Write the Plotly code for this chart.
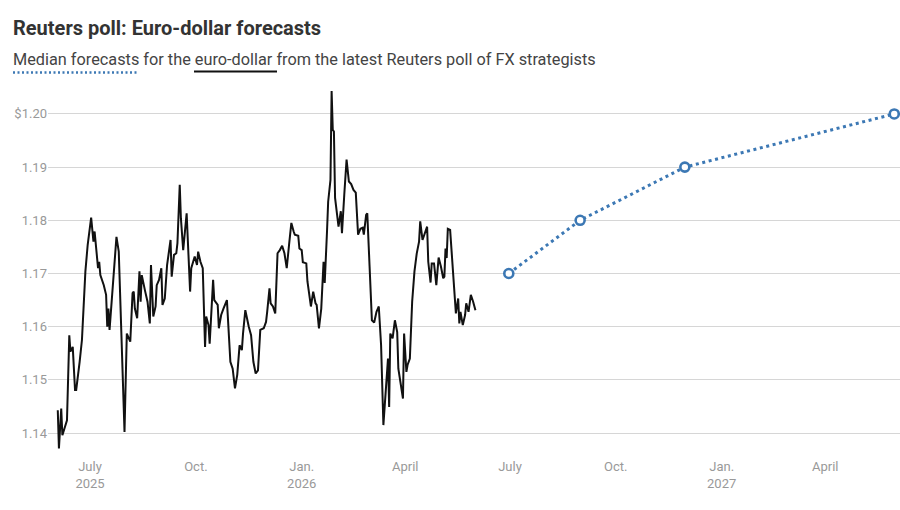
import plotly.graph_objects as go

# ---- Data ----
spot_dates = [
    "2025-06-03","2025-06-04","2025-06-06","2025-06-07","2025-06-11","2025-06-13","2025-06-14","2025-06-16",
    "2025-06-18","2025-06-19","2025-06-22","2025-06-24","2025-06-27","2025-06-29","2025-07-02","2025-07-04",
    "2025-07-05","2025-07-06","2025-07-08","2025-07-09","2025-07-10","2025-07-13","2025-07-15","2025-07-16",
    "2025-07-17","2025-07-18","2025-07-21","2025-07-24","2025-07-26","2025-07-28","2025-07-31","2025-08-02",
    "2025-08-04","2025-08-05","2025-08-07","2025-08-08","2025-08-09","2025-08-11","2025-08-13","2025-08-14",
    "2025-08-15","2025-08-16","2025-08-18","2025-08-20","2025-08-22","2025-08-23","2025-08-25","2025-08-27",
    "2025-08-28","2025-08-30","2025-09-01","2025-09-02","2025-09-04","2025-09-06","2025-09-09","2025-09-10",
    "2025-09-12","2025-09-14","2025-09-15","2025-09-17","2025-09-18","2025-09-20","2025-09-22","2025-09-23",
    "2025-09-26","2025-09-27","2025-09-30","2025-10-02","2025-10-03","2025-10-05","2025-10-07","2025-10-09",
    "2025-10-10","2025-10-12","2025-10-13","2025-10-16","2025-10-17","2025-10-20","2025-10-21","2025-10-23",
    "2025-10-25","2025-10-28","2025-10-31","2025-11-02","2025-11-04","2025-11-06","2025-11-08","2025-11-10",
    "2025-11-11","2025-11-13","2025-11-16","2025-11-18","2025-11-20","2025-11-22","2025-11-24","2025-11-26",
    "2025-11-29","2025-12-01","2025-12-02","2025-12-04",
    "2025-12-05","2025-12-07","2025-12-09","2025-12-11","2025-12-13","2025-12-15","2025-12-17","2025-12-19",
    "2025-12-21","2025-12-23","2025-12-25","2025-12-26","2025-12-29","2025-12-30","2026-01-01","2026-01-02",
    "2026-01-05","2026-01-06","2026-01-09","2026-01-11","2026-01-13","2026-01-14","2026-01-16","2026-01-18",
    "2026-01-20","2026-01-21","2026-01-23","2026-01-24","2026-01-26","2026-01-27","2026-01-28","2026-01-29",
    "2026-01-30","2026-02-01","2026-02-02","2026-02-04","2026-02-05","2026-02-07","2026-02-09","2026-02-11",
    "2026-02-13","2026-02-15","2026-02-17","2026-02-19","2026-02-21","2026-02-23","2026-02-24","2026-02-26",
    "2026-02-27","2026-03-01","2026-03-03","2026-03-05","2026-03-07","2026-03-09","2026-03-11","2026-03-13",
    "2026-03-15","2026-03-17","2026-03-18","2026-03-19","2026-03-21","2026-03-23","2026-03-25","2026-03-26",
    "2026-03-30","2026-03-31","2026-04-02","2026-04-03","2026-04-05","2026-04-07","2026-04-09","2026-04-11",
    "2026-04-13","2026-04-14","2026-04-16","2026-04-18","2026-04-20","2026-04-21","2026-04-23","2026-04-24",
    "2026-04-26","2026-04-28","2026-04-30","2026-05-02","2026-05-04","2026-05-05","2026-05-06","2026-05-07",
    "2026-05-08","2026-05-10","2026-05-13","2026-05-15","2026-05-17","2026-05-18","2026-05-19","2026-05-21",
    "2026-05-23","2026-05-24","2026-05-26","2026-05-28","2026-05-30","2026-06-01",
]
spot_values = [
    1.1443,1.1371,1.1446,1.1396,1.1424,1.1584,1.1553,1.1562,
    1.1481,1.1481,1.1534,1.1575,1.1704,1.1754,1.1805,1.1760,
    1.1779,1.1755,1.1710,1.1722,1.1697,1.1678,1.1660,1.1600,
    1.1634,1.1594,1.1691,1.1769,1.1741,1.1616,1.1402,1.1587,
    1.1578,1.1572,1.1663,1.1666,1.1634,1.1616,1.1704,1.1647,
    1.1697,1.1685,1.1666,1.1647,1.1606,1.1716,1.1619,1.1638,
    1.1678,1.1688,1.1710,1.1641,1.1653,1.1716,1.1763,1.1694,
    1.1735,1.1738,1.1757,1.1867,1.1804,1.1744,1.1785,1.1813,
    1.1666,1.1710,1.1732,1.1716,1.1741,1.1722,1.1710,1.1562,
    1.1619,1.1603,1.1568,1.1688,1.1650,1.1641,1.1597,1.1622,
    1.1634,1.1650,1.1534,1.1521,1.1484,1.1510,1.1565,1.1556,
    1.1587,1.1631,1.1600,1.1584,1.1534,1.1512,1.1518,1.1594,
    1.1597,1.1609,1.1628,1.1672,
    1.1644,1.1638,1.1625,1.1738,1.1744,1.1752,1.1738,1.1710,
    1.1754,1.1795,1.1779,1.1773,1.1771,1.1747,1.1744,1.1721,
    1.1719,1.1685,1.1638,1.1666,1.1644,1.1641,1.1597,1.1634,
    1.1722,1.1682,1.1779,1.1835,1.1876,1.2043,1.1970,1.1967,
    1.1842,1.1810,1.1788,1.1817,1.1776,1.1848,1.1914,1.1873,
    1.1868,1.1857,1.1852,1.1773,1.1784,1.1786,1.1773,1.1810,
    1.1813,1.1713,1.1612,1.1608,1.1628,1.1638,1.1565,1.1415,
    1.1484,1.1540,1.1449,1.1587,1.1578,1.1612,1.1590,1.1521,
    1.1465,1.1587,1.1515,1.1528,1.1540,1.1647,1.1704,1.1738,
    1.1760,1.1798,1.1763,1.1776,1.1788,1.1722,1.1683,1.1719,
    1.1719,1.1678,1.1730,1.1713,1.1691,1.1694,1.1747,1.1729,
    1.1784,1.1782,1.1697,1.1625,1.1653,1.1606,1.1628,1.1603,
    1.1622,1.1644,1.1628,1.1660,1.1647,1.1631,
]
forecast_dates = ["2026-06-30", "2026-08-31", "2026-11-30", "2027-05-31"]
forecast_values = [1.17, 1.18, 1.19, 1.20]

x_tick_dates = ["2025-07-01", "2025-10-01", "2026-01-01", "2026-04-01",
                "2026-07-01", "2026-10-01", "2027-01-01", "2027-04-01"]
x_tick_labels = ["July<br>2025", "Oct.", "Jan.<br>2026", "April",
                 "July", "Oct.", "Jan.<br>2027", "April"]
y_tick_values = [1.14, 1.15, 1.16, 1.17, 1.18, 1.19, 1.20]
y_tick_labels = ["1.14", "1.15", "1.16", "1.17", "1.18", "1.19", "$1.20"]

title_text = "Reuters poll: Euro-dollar forecasts"
subtitle_text = "Median forecasts for the euro-dollar from the latest Reuters poll of FX strategists"

BLUE = "#3c78b4"
W, H = 900, 510
ML, MR, MT, MB = 48, 0, 90, 53

def px(xp):
    return (xp - ML) / (W - ML - MR)

def py(yp):
    return (H - MB - yp) / (H - MT - MB)

fig = go.Figure()
fig.add_trace(go.Scatter(
    x=spot_dates, y=spot_values, mode="lines",
    line=dict(color="#111111", width=2), hoverinfo="x+y", showlegend=False,
))
fig.add_trace(go.Scatter(
    x=forecast_dates, y=forecast_values, mode="lines+markers",
    line=dict(color=BLUE, width=3, dash="3px,3.6px"),
    marker=dict(symbol="circle", size=9, color="white", line=dict(color=BLUE, width=2.6)),
    showlegend=False,
))

font_family = "Roboto, 'Noto Sans', sans-serif"

fig.update_layout(
    width=W, height=H,
    margin=dict(l=ML, r=MR, t=MT, b=MB),
    paper_bgcolor="white", plot_bgcolor="white",
    font=dict(family=font_family, color="#999999", size=13),
    xaxis=dict(
        type="date",
        range=["2025-05-25 12:00", "2027-06-05 00:00"],
        tickvals=x_tick_dates, ticktext=x_tick_labels,
        showgrid=False, zeroline=False, showline=False, ticks="",
        tickfont=dict(size=13, color="#999999", family=font_family),
    ),
    yaxis=dict(
        range=[1.1355, 1.2045],
        tickvals=y_tick_values, ticktext=y_tick_labels,
        showgrid=True, gridcolor="#d6d6d6", gridwidth=1,
        zeroline=False, showline=False, ticks="",
        tickfont=dict(size=13, color="#999999", family=font_family),
    ),
    annotations=[
        dict(text="<b>" + title_text + "</b>", xref="paper", yref="paper",
             x=px(11), y=py(28), xanchor="left", yanchor="middle", showarrow=False,
             font=dict(size=20, color="#333333", family=font_family)),
        dict(text=subtitle_text, xref="paper", yref="paper",
             x=px(11), y=py(60), xanchor="left", yanchor="middle", showarrow=False,
             font=dict(size=16.3, color="#444444", family=font_family)),
    ],
    shapes=[
        dict(type="line", xref="paper", yref="paper",
             x0=px(13), x1=px(138), y0=py(72.5), y1=py(72.5),
             line=dict(color=BLUE, width=2.5, dash="2px,2.5px")),
        dict(type="line", xref="paper", yref="paper",
             x0=px(194), x1=px(277), y0=py(71.5), y1=py(71.5),
             line=dict(color="#111111", width=2)),
    ],
)

fig.write_html("out.html")
